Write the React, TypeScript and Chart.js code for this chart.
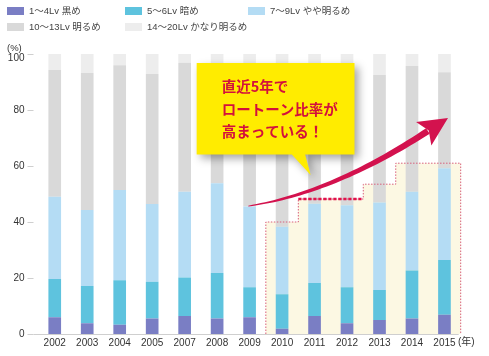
import React, { useEffect, useRef } from "react";
import { Chart, registerables } from "chart.js";

Chart.register(...registerables);

// ---- data ----
const years = ["2002", "2003", "2004", "2005", "2007", "2008", "2009", "2010", "2011", "2012", "2013", "2014", "2015"];
const lv1to4 = [6.0, 3.8, 3.3, 5.5, 6.4, 5.5, 6.0, 1.9, 6.4, 3.8, 5.0, 5.5, 6.9];
const lv5to6 = [13.6, 13.3, 15.9, 13.2, 13.8, 16.3, 10.7, 12.3, 11.8, 12.9, 10.7, 17.2, 19.5];
const lv7to9 = [29.4, 27.2, 32.2, 27.7, 30.6, 32.0, 28.8, 24.1, 28.3, 29.3, 31.3, 28.1, 32.8];
const lv10to13 = [45.3, 48.9, 44.6, 46.5, 46.1, 41.2, 48.5, 54.7, 47.5, 47.0, 45.5, 44.9, 34.3];
const lv14to20 = [5.7, 6.8, 4.0, 7.1, 3.1, 5.0, 6.0, 7.0, 6.0, 7.0, 7.5, 4.3, 6.5];
const seriesLabels = ["1〜4Lv 黒め", "5〜6Lv 暗め", "7〜9Lv やや明るめ", "10〜13Lv 明るめ", "14〜20Lv かなり明るめ"];
const yTickValues = [0, 20, 40, 60, 80, 100];
const yUnit = "(%)";
const xUnit = "(年)";
const calloutLines = ["直近5年で", "ロートーン比率が", "高まっている！"];
// highlighted region: [fromIndex, toIndex, level %]
const highlightFrom = [6.5, 7.5, 9.5, 10.5];
const highlightTo = [7.5, 9.5, 10.5, 12.5];
const highlightLevel = [40, 48.2, 53.5, 61];

const colors = ["#7a7ec4", "#5ec3de", "#b4dcf4", "#d9d9d9", "#ededed"];
const FONT = '"Liberation Sans", "Noto Sans CJK JP", sans-serif';

const overlayPlugin = {
  id: "overlay",
  beforeDatasetsDraw(chart: any) {
    const { ctx, scales } = chart;
    const x = scales.x, y = scales.y;
    const px = (v: number) => x.getPixelForValue(v);
    const py = (v: number) => y.getPixelForValue(v);
    ctx.save();
    ctx.fillStyle = "#fcf8e3";
    ctx.beginPath();
    ctx.moveTo(px(highlightFrom[0]), py(0));
    for (let i = 0; i < highlightLevel.length; i++) {
      ctx.lineTo(px(highlightFrom[i]), py(highlightLevel[i]));
      ctx.lineTo(px(highlightTo[i]), py(highlightLevel[i]));
    }
    ctx.lineTo(px(highlightTo[highlightTo.length - 1]), py(0));
    ctx.closePath();
    ctx.fill();
    ctx.restore();
  },
  afterDatasetsDraw(chart: any) {
    const { ctx, scales, chartArea } = chart;
    const x = scales.x, y = scales.y;
    const px = (v: number) => x.getPixelForValue(v);
    const py = (v: number) => y.getPixelForValue(v);
    ctx.save();

    // axis line, y tick marks and labels
    ctx.strokeStyle = "#cfcfcf";
    ctx.lineWidth = 1;
    ctx.beginPath();
    ctx.moveTo(chartArea.left - 5, Math.round(py(0)) + 0.5);
    ctx.lineTo(chartArea.right - 2, Math.round(py(0)) + 0.5);
    for (const t of yTickValues) {
      const yy = Math.round(py(t)) + 0.5;
      ctx.moveTo(chartArea.left - 11, yy);
      ctx.lineTo(chartArea.left - 5, yy);
    }
    ctx.stroke();
    ctx.fillStyle = "#333";
    ctx.font = `10px ${FONT}`;
    ctx.textAlign = "right";
    ctx.textBaseline = "middle";
    for (const t of yTickValues) {
      const yy = py(t) + (t === 100 ? 4.5 : 0);
      ctx.fillText(String(t), chartArea.left - 14, yy);
    }

    // highlight outline (thin dotted)
    ctx.strokeStyle = "#d8607c";
    ctx.lineWidth = 1;
    ctx.setLineDash([1.5, 1.5]);
    ctx.beginPath();
    ctx.moveTo(px(highlightFrom[0]), py(0));
    for (let i = 0; i < highlightLevel.length; i++) {
      ctx.lineTo(px(highlightFrom[i]), py(highlightLevel[i]));
      ctx.lineTo(px(highlightTo[i]), py(highlightLevel[i]));
    }
    ctx.lineTo(px(highlightTo[highlightTo.length - 1]), py(0));
    ctx.stroke();

    // thick dashed segment
    ctx.strokeStyle = "#e0124c";
    ctx.lineWidth = 2.6;
    ctx.setLineDash([3.2, 1.8]);
    ctx.beginPath();
    ctx.moveTo(px(highlightFrom[1]), py(highlightLevel[1]));
    ctx.lineTo(px(highlightTo[1]), py(highlightLevel[1]));
    ctx.stroke();
    ctx.setLineDash([]);

    // curved arrow
    const P0 = { x: px(5.96), y: py(45.7) };
    const P1 = { x: px(8.54), y: py(50.2) };
    const P2 = { x: px(11.49), y: py(72.5) };
    const q = (t: number) => ({
      x: (1 - t) * (1 - t) * P0.x + 2 * (1 - t) * t * P1.x + t * t * P2.x,
      y: (1 - t) * (1 - t) * P0.y + 2 * (1 - t) * t * P1.y + t * t * P2.y,
    });
    const d = (t: number) => {
      const dx = 2 * (1 - t) * (P1.x - P0.x) + 2 * t * (P2.x - P1.x);
      const dy = 2 * (1 - t) * (P1.y - P0.y) + 2 * t * (P2.y - P1.y);
      const l = Math.hypot(dx, dy);
      return { x: dx / l, y: dy / l };
    };
    const left: any[] = [], right: any[] = [];
    const N = 40;
    for (let i = 0; i <= N; i++) {
      const t = i / N;
      const p = q(t), dd = d(t);
      const w = 0.4 + 2.9 * Math.pow(t, 0.8);
      left.push({ x: p.x - dd.y * w, y: p.y + dd.x * w });
      right.push({ x: p.x + dd.y * w, y: p.y - dd.x * w });
    }
    ctx.fillStyle = "#d3124e";
    ctx.beginPath();
    ctx.moveTo(left[0].x, left[0].y);
    for (const p of left) ctx.lineTo(p.x, p.y);
    for (let i = right.length - 1; i >= 0; i--) ctx.lineTo(right[i].x, right[i].y);
    ctx.closePath();
    ctx.fill();
    const de = d(1);
    const perp = { x: -de.y, y: de.x };
    const tip = { x: P2.x + de.x * 24, y: P2.y + de.y * 24 };
    ctx.beginPath();
    ctx.moveTo(tip.x, tip.y);
    ctx.lineTo(P2.x - de.x * 5 + perp.x * 14, P2.y - de.y * 5 + perp.y * 14);
    ctx.lineTo(P2.x + de.x * 1, P2.y + de.y * 1);
    ctx.lineTo(P2.x - de.x * 5 - perp.x * 14, P2.y - de.y * 5 - perp.y * 14);
    ctx.closePath();
    ctx.fill();

    // callout
    const bx0 = px(4.37), bx1 = px(9.23), by0 = py(96.8), by1 = py(64.1);
    ctx.save();
    ctx.shadowColor = "rgba(0,0,0,0.35)";
    ctx.shadowBlur = 8;
    ctx.shadowOffsetX = 4;
    ctx.shadowOffsetY = 4;
    ctx.fillStyle = "#ffec00";
    ctx.beginPath();
    ctx.moveTo(bx0, by0);
    ctx.lineTo(bx1, by0);
    ctx.lineTo(bx1, by1);
    ctx.lineTo(px(7.71), by1);
    ctx.lineTo(px(7.88), py(56.8));
    ctx.lineTo(px(7.3), by1);
    ctx.lineTo(bx0, by1);
    ctx.closePath();
    ctx.fill();
    ctx.restore();

    ctx.fillStyle = "#d3103c";
    ctx.font = 'bold 14.5px "Noto Sans CJK JP", sans-serif';
    ctx.textBaseline = "middle";
    ctx.textAlign = "left";
    const lineY = [86.5, 109, 131.5];
    calloutLines.forEach((s, i) => ctx.fillText(s, bx0 + 25, lineY[i]));

    // units
    ctx.fillStyle = "#333";
    ctx.font = `9.5px ${FONT}`;
    ctx.textAlign = "left";
    ctx.fillText(yUnit, 7, 48);
    ctx.font = `10px ${FONT}`;
    ctx.fillText(xUnit, 458, 342.5);

    // legend
    const legX = [7, 125, 248, 7, 125];
    const legY = [11, 11, 11, 27, 27];
    ctx.font = `9.5px ${FONT}`;
    seriesLabels.forEach((lab, i) => {
      ctx.fillStyle = colors[i];
      ctx.fillRect(legX[i], legY[i] - 4, 17, 8);
      ctx.fillStyle = "#444";
      ctx.fillText(lab, legX[i] + 22, legY[i] + 0.5);
    });

    ctx.restore();
  },
};

export default function App() {
  const ref = useRef<HTMLCanvasElement>(null);
  useEffect(() => {
    if (!ref.current) return;
    const series = [lv1to4, lv5to6, lv7to9, lv10to13, lv14to20];
    const chart = new Chart(ref.current, {
      type: "bar",
      data: {
        labels: years,
        datasets: series.map((d, i) => ({
          label: seriesLabels[i],
          data: d,
          backgroundColor: colors[i],
          borderWidth: 0,
          barPercentage: 0.39,
          categoryPercentage: 1,
        })),
      },
      options: {
        responsive: false,
        animation: false,
        events: [],
        layout: { padding: { top: 54, right: 28.3, bottom: 0, left: 0 } },
        plugins: { legend: { display: false }, tooltip: { enabled: false } },
        scales: {
          x: {
            stacked: true,
            grid: { display: false, drawTicks: false },
            border: { display: false },
            ticks: { color: "#333", font: { size: 10, family: FONT }, padding: 3, maxRotation: 0, autoSkip: false },
            afterFit: (s: any) => { s.height = 22; },
          },
          y: {
            stacked: true,
            min: 0,
            max: 100,
            grid: { display: false, drawTicks: false },
            border: { display: false },
            ticks: { stepSize: 20, display: false },
            afterFit: (s: any) => { s.width = 38.5; },
          },
        },
      },
      plugins: [overlayPlugin],
    });
    return () => chart.destroy();
  }, []);
  return (
    <div style={{ position: "fixed", left: 0, top: 0, width: 489, height: 356, background: "#fff" }}>
      <canvas ref={ref} width={489} height={356} style={{ display: "block" }} />
    </div>
  );
}
